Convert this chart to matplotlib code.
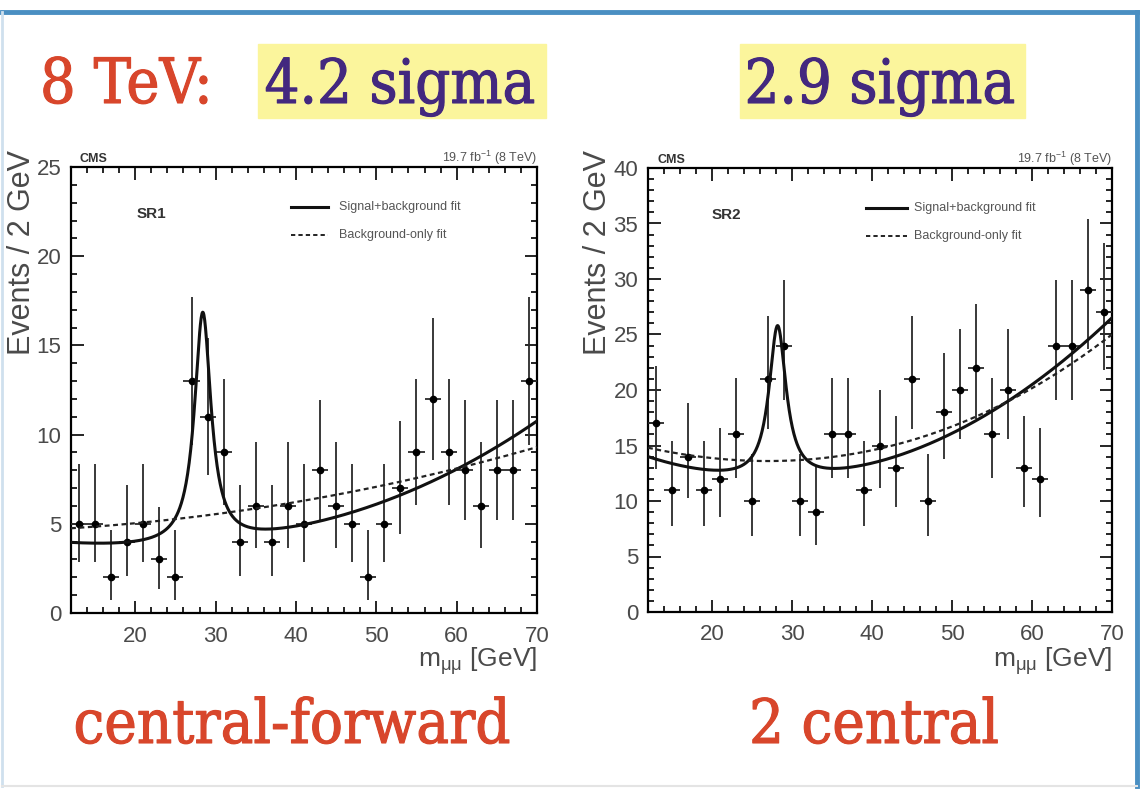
import numpy as np
import matplotlib
matplotlib.use("Agg")
import matplotlib.pyplot as plt
import matplotlib.patheffects as pe
from matplotlib.lines import Line2D
from matplotlib.ticker import MultipleLocator

plt.rcParams['font.family'] = ['Liberation Sans', 'DejaVu Sans']
plt.rcParams['mathtext.default'] = 'regular'

# ---------------- data ----------------
bin_centers = [13, 15, 17, 19, 21, 23, 25, 27, 29, 31, 33, 35, 37, 39, 41,
               43, 45, 47, 49, 51, 53, 55, 57, 59, 61, 63, 65, 67, 69]
sr1_counts = [5, 5, 2, 4, 5, 3, 2, 13, 11, 9, 4, 6, 4, 6, 5,
              8, 6, 5, 2, 5, 7, 9, 12, 9, 8, 6, 8, 8, 13]
sr2_counts = [17, 11, 14, 11, 12, 16, 10, 21, 24, 10, 9, 16, 16, 11, 15,
              13, 21, 10, 18, 20, 22, 16, 20, 13, 12, 24, 24, 29, 27]

# Poisson (Garwood) 68% interval bounds read for each count value
interval_lo = {2: 0.71, 3: 1.37, 4: 2.09, 5: 2.84, 6: 3.62, 7: 4.42, 8: 5.23,
               9: 6.06, 10: 6.89, 11: 7.73, 12: 8.59, 13: 9.44, 14: 10.30,
               15: 11.17, 16: 12.04, 17: 12.92, 18: 13.80, 20: 15.57,
               21: 16.46, 22: 17.35, 24: 19.14, 27: 21.84, 29: 23.65}
interval_hi = {2: 4.64, 3: 5.92, 4: 7.16, 5: 8.38, 6: 9.58, 7: 10.77, 8: 11.95,
               9: 13.11, 10: 14.27, 11: 15.42, 12: 16.56, 13: 17.70, 14: 18.83,
               15: 19.96, 16: 21.08, 17: 22.20, 18: 23.32, 20: 25.54,
               21: 26.65, 22: 27.75, 24: 29.94, 27: 33.21, 29: 35.38}

# fit parameters: background = m + c1*d + c2*d^2 + c3*d^3 (d = x-x0) ; peak = Lorentzian
sr1_sb_bkg = dict(x0=20.0, m=3.75, c2=0.0022, c3=1.2e-5)
sr1_sb_peak = dict(mass=28.4, hwhm=1.25, amp=12.95)
sr1_b_only = dict(x0=12.0, m=4.75, c1=0.0284, c2=0.000862)

sr2_sb_bkg = dict(x0=27.5, m=12.0, c2=0.00797, c3=1.24e-6)
sr2_sb_peak = dict(mass=28.2, hwhm=1.3, amp=13.8)
sr2_b_only = dict(x0=27.0, m=13.6, c2=0.00555, c3=1.436e-5)

xticks = [20, 30, 40, 50, 60, 70]

# ---------------- helpers ----------------
W, H = 1148, 790


def fx(px):
    return px / W


def fy(py):
    return 1 - py / H


def bkg_poly(x, p):
    d = x - p['x0']
    return p['m'] + p.get('c1', 0.0) * d + p.get('c2', 0.0) * d ** 2 + p.get('c3', 0.0) * d ** 3


def peak(x, p):
    return p['amp'] * p['hwhm'] ** 2 / ((x - p['mass']) ** 2 + p['hwhm'] ** 2)


fig = plt.figure(figsize=(W / 100, H / 100), dpi=100)
fig.patch.set_facecolor('white')

# slide border
fig.add_artist(Line2D([fx(2), fx(1137)], [fy(12), fy(12)], color='#4a8fc2', lw=3.5))
fig.add_artist(Line2D([fx(1137), fx(1137)], [fy(12), fy(786)], color='#4a8fc2', lw=3.5))
fig.add_artist(Line2D([fx(2), fx(2)], [fy(12), fy(786)], color='#cfe0ee', lw=2))
fig.add_artist(Line2D([fx(2), fx(1137)], [fy(786), fy(786)], color='#e4e4e4', lw=1.5))

red = '#d8462b'
purple = '#43287f'
yellow = '#fbf59c'
serif = dict(family=['DejaVu Serif'], stretch='condensed')


def heavy(color):
    return [pe.withStroke(linewidth=0.8, foreground=color)]


# header
fig.text(fx(40), fy(103), '8 TeV:', color=red, fontsize=45, ha='left', va='baseline',
         path_effects=heavy(red), **serif)
fig.patches.append(matplotlib.patches.Rectangle((fx(258), fy(118)), fx(288), 74 / H,
                                                 transform=fig.transFigure, color=yellow, zorder=0))
fig.patches.append(matplotlib.patches.Rectangle((fx(740), fy(118)), fx(285), 74 / H,
                                                 transform=fig.transFigure, color=yellow, zorder=0))
fig.text(fx(400), fy(103), '4.2 sigma', color=purple, fontsize=44, ha='center', va='baseline',
         path_effects=heavy(purple), **serif)
fig.text(fx(880), fy(103), '2.9 sigma', color=purple, fontsize=44, ha='center', va='baseline',
         path_effects=heavy(purple), **serif)

# footer
fig.text(fx(292), fy(743), 'central-forward', color=red, fontsize=44, ha='center', va='baseline',
         path_effects=heavy(red), **serif)
fig.text(fx(874), fy(743), '2 central', color=red, fontsize=44, ha='center', va='baseline',
         path_effects=heavy(red), **serif)

panels = [
    dict(rect=(71, 167, 537, 613), counts=sr1_counts, ymax=25, sb_bkg=sr1_sb_bkg,
         sb_peak=sr1_sb_peak, b_only=sr1_b_only, label='SR1', ylab_x=22,
         leg_x=(291, 328), leg_tx=339, sr_x=137),
    dict(rect=(648, 168, 1112, 612), counts=sr2_counts, ymax=40, sb_bkg=sr2_sb_bkg,
         sb_peak=sr2_sb_peak, b_only=sr2_b_only, label='SR2', ylab_x=598,
         leg_x=(866, 907), leg_tx=914, sr_x=712),
]

xs = np.linspace(12, 70, 1200)
gray = '#4a4a4a'

for p in panels:
    x0, y0, x1, y1 = p['rect']
    ax = fig.add_axes([fx(x0), fy(y1), (x1 - x0) / W, (y1 - y0) / H])
    ax.set_xlim(12, 70)
    ax.set_ylim(0, p['ymax'])
    counts = np.array(p['counts'], dtype=float)
    lo = counts - np.array([interval_lo[int(c)] for c in counts])
    hi = np.array([interval_hi[int(c)] for c in counts]) - counts
    ax.errorbar(bin_centers, counts, yerr=[lo, hi], xerr=1.0, fmt='o', ms=4.5,
                color='black', ecolor='#2a2a2a', elinewidth=1.3, capsize=0, zorder=3)
    sb = bkg_poly(xs, p['sb_bkg']) + peak(xs, p['sb_peak'])
    bo = bkg_poly(xs, p['b_only'])
    ax.plot(xs, sb, color='#111111', lw=2.2, zorder=4)
    ax.plot(xs, bo, color='#222222', lw=1.6, ls=(0, (2.2, 1.6)), zorder=4)

    ax.set_xticks(xticks)
    ax.xaxis.set_minor_locator(MultipleLocator(2))
    ax.yaxis.set_major_locator(MultipleLocator(5))
    ax.yaxis.set_minor_locator(MultipleLocator(1))
    ax.tick_params(which='both', direction='in', top=True, right=True,
                   labelsize=16, labelcolor=gray, width=1.2)
    ax.tick_params(which='major', length=9)
    ax.tick_params(which='minor', length=4.5)
    ax.tick_params(axis='x', pad=9)
    ax.tick_params(axis='y', pad=7)
    for s in ax.spines.values():
        s.set_linewidth(1.6)

    # texts around the frame
    fig.text(fx(x0 + 9), fy(y0 - 5), 'CMS', fontsize=9, fontweight='bold',
             color='#333333', ha='left', va='baseline')
    fig.text(fx(x1), fy(y0 - 5), '19.7 fb$^{-1}$ (8 TeV)', fontsize=9,
             color='#555555', ha='right', va='baseline')
    fig.text(fx(p['ylab_x']), fy(150), 'Events / 2 GeV', fontsize=22, rotation=90,
             color=gray, ha='center', va='top')
    fig.text(fx(x1), fy(667), 'm$_{μμ}$ [GeV]', fontsize=19, color=gray,
             ha='right', va='baseline')
    fig.text(fx(p['sr_x']), fy(y0 + 47), p['label'], fontsize=11, fontweight='bold',
             color='#333333', ha='left', va='center')
    # legend
    lx0, lx1 = p['leg_x']
    fig.add_artist(Line2D([fx(lx0), fx(lx1)], [fy(y0 + 40), fy(y0 + 40)],
                          color='#111111', lw=2.2))
    fig.add_artist(Line2D([fx(lx0), fx(lx1)], [fy(y0 + 68), fy(y0 + 68)],
                          color='#222222', lw=1.4, ls=(0, (2.2, 1.6))))
    fig.text(fx(p['leg_tx']), fy(y0 + 40), 'Signal+background fit', fontsize=9,
             color='#555555', ha='left', va='center')
    fig.text(fx(p['leg_tx']), fy(y0 + 68), 'Background-only fit', fontsize=9,
             color='#555555', ha='left', va='center')

fig.savefig('out.png', dpi=100)
